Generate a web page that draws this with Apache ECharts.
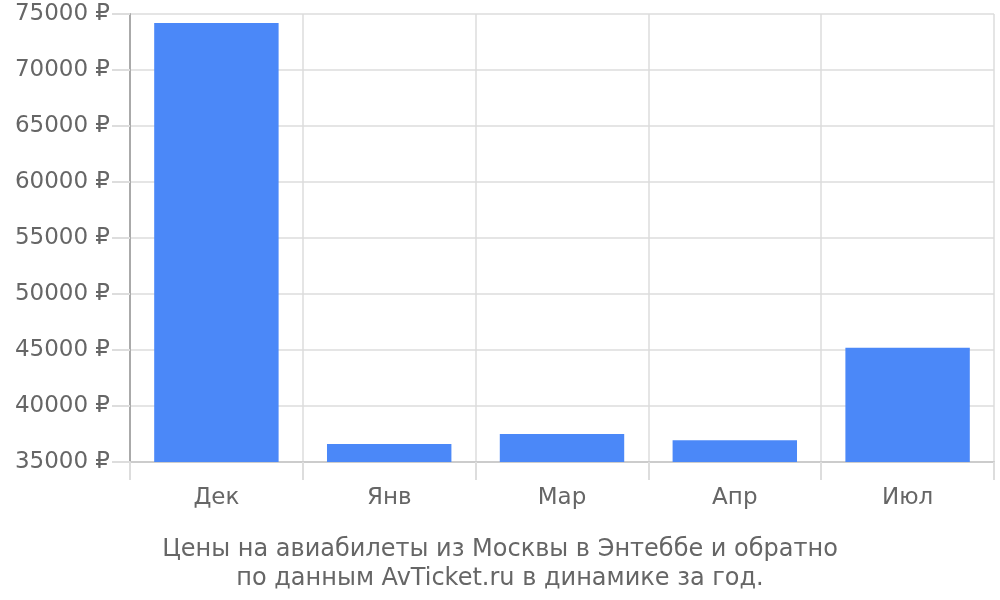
<!DOCTYPE html>
<html>
<head>
<meta charset="utf-8">
<script src="https://cdn.jsdelivr.net/npm/echarts@6/dist/echarts.min.js"></script>
<style>html,body{margin:0;padding:0;background:#fff}#c{width:1000px;height:600px}</style>
</head>
<body>
<div id="c"></div>
<script>
var categories = ['Дек', 'Янв', 'Мар', 'Апр', 'Июл'];
var prices = [74200, 36600, 37500, 36950, 45200];
var titleText = 'Цены на авиабилеты из Москвы в Энтеббе и обратно\nпо данным AvTicket.ru в динамике за год.';

var chart = echarts.init(document.getElementById('c'));
chart.setOption({
  animation: false,
  textStyle: { fontFamily: 'DejaVu Sans' },
  title: {
    text: titleText,
    left: 'center',
    top: 530,
    textStyle: { fontFamily: 'DejaVu Sans', fontSize: 24, fontWeight: 'normal', color: '#666', lineHeight: 29, align: 'center' }
  },
  grid: { left: 130, right: 6, top: 14, bottom: 138, containLabel: false },
  xAxis: {
    type: 'category',
    data: categories,
    boundaryGap: true,
    axisLine: { show: true, lineStyle: { color: '#ccc', width: 2 } },
    axisTick: { show: true, length: 18, interval: 0, lineStyle: { color: '#ddd', width: 2 } },
    splitLine: { show: true, interval: 0, lineStyle: { color: '#ddd', width: 1.5 } },
    axisLabel: { margin: 25, fontSize: 23, color: '#666', fontFamily: 'DejaVu Sans' }
  },
  yAxis: {
    type: 'value',
    min: 35000,
    max: 75000,
    interval: 5000,
    axisLine: { show: true, lineStyle: { color: '#aaa', width: 2 } },
    axisTick: { show: true, length: 18, lineStyle: { color: '#ddd', width: 2 } },
    splitLine: { show: true, lineStyle: { color: '#ddd', width: 1.5 } },
    axisLabel: { margin: 20, fontSize: 23, color: '#666', fontFamily: 'DejaVu Sans', formatter: function (v) { return v + ' ₽'; } }
  },
  series: [{
    type: 'bar',
    data: prices,
    barCategoryGap: '28%',
    itemStyle: { color: '#4b88f8' }
  }]
});
</script>
</body>
</html>
